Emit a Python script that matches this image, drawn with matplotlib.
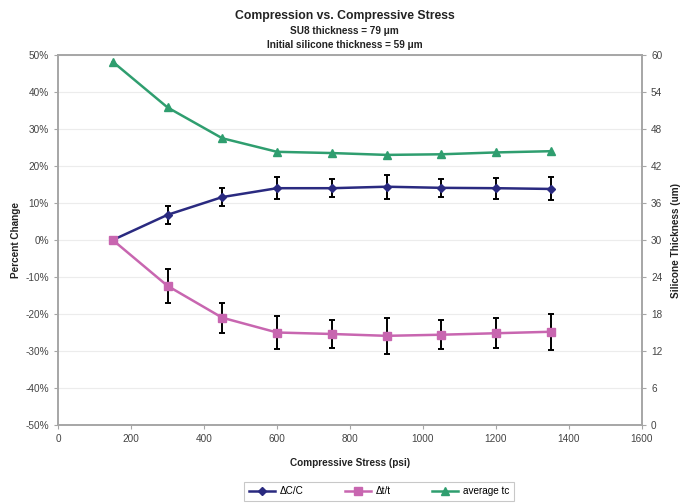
import matplotlib.pyplot as plt
from matplotlib.lines import Line2D
from matplotlib.ticker import FuncFormatter

plt.rcParams['font.family'] = ['Liberation Sans', 'DejaVu Sans']

# =========================
# DATA
# =========================
stress = [150, 300, 450, 600, 750, 900, 1050, 1200, 1350]

dc_c = [0.0, 6.8, 11.6, 14.0, 14.0, 14.4, 14.1, 14.0, 13.8]
dc_c_err = [0.0, 2.5, 2.4, 2.9, 2.5, 3.2, 2.5, 2.8, 3.1]

dt_t = [0.0, -12.4, -21.0, -25.0, -25.4, -25.9, -25.6, -25.2, -24.8]
dt_t_err = [0.0, 4.5, 4.0, 4.5, 3.8, 4.8, 3.9, 4.1, 4.9]

avg_tc = [58.9, 51.5, 46.5, 44.3, 44.1, 43.8, 43.9, 44.2, 44.4]

x_ticks = [0, 200, 400, 600, 800, 1000, 1200, 1400, 1600]
y_ticks = [-50, -40, -30, -20, -10, 0, 10, 20, 30, 40, 50]
y2_ticks = [0, 6, 12, 18, 24, 30, 36, 42, 48, 54, 60]

blue = '#2a2a80'
pink = '#c866b0'
green = '#2f9e6f'
axis_gray = '#a6a6a6'
text_col = '#222222'

# =========================
# FIGURE
# =========================
fig = plt.figure(figsize=(6.89, 5.04), dpi=100)
ax = fig.add_axes([58 / 689, 1 - 425 / 504, (642 - 58) / 689, (425 - 55) / 504])
ax2 = ax.twinx()

ax.set_xlim(0, 1600)
ax.set_ylim(-50, 50)
ax2.set_ylim(0, 60)
ax.set_xticks(x_ticks)
ax.set_yticks(y_ticks)
ax2.set_yticks(y2_ticks)
ax.yaxis.set_major_formatter(FuncFormatter(lambda v, p: f"{v:.0f}%"))

for a in (ax, ax2):
    for s in a.spines.values():
        s.set_color(axis_gray)
        s.set_linewidth(1.2)
    a.tick_params(colors=axis_gray, labelcolor='#444444', labelsize=7.2,
                  length=3, width=0.8)

ax.grid(axis='y', color='#ececec', linewidth=0.8)
ax.set_axisbelow(True)

# =========================
# SERIES
# =========================
ax.errorbar(stress, dc_c, yerr=dc_c_err, color=blue, marker='D', markersize=4,
            linewidth=1.8, ecolor='black', elinewidth=1.4, capsize=2,
            capthick=1.4, zorder=3)
ax.errorbar(stress, dt_t, yerr=dt_t_err, color=pink, marker='s', markersize=5.5,
            linewidth=1.8, ecolor='black', elinewidth=1.4, capsize=2,
            capthick=1.4, zorder=4)
ax2.plot(stress, avg_tc, color=green, marker='^', markersize=6, linewidth=1.8)

# =========================
# TEXT
# =========================
fig.text(0.5, 1 - 16 / 504, 'Compression vs. Compressive Stress', ha='center',
         va='center', fontsize=8.8, fontweight='bold', color=text_col)
fig.text(0.5, 1 - 31 / 504, 'SU8 thickness = 79 \u03bcm', ha='center',
         va='center', fontsize=7.2, fontweight='bold', color=text_col)
fig.text(0.5, 1 - 45 / 504, 'Initial silicone thickness = 59 \u03bcm', ha='center',
         va='center', fontsize=7.2, fontweight='bold', color=text_col)

ax.set_xlabel('Compressive Stress (psi)', fontsize=7.2, fontweight='bold',
              color=text_col, labelpad=10)
ax.set_ylabel('Percent Change', fontsize=7.2, fontweight='bold',
              color=text_col, labelpad=3)
ax2.set_ylabel('Silicone Thickness (um)', fontsize=7.2, fontweight='bold',
               color=text_col, labelpad=6)

handles = [
    Line2D([], [], color=blue, marker='D', markersize=4, linewidth=1.8),
    Line2D([], [], color=pink, marker='s', markersize=5.5, linewidth=1.8),
    Line2D([], [], color=green, marker='^', markersize=6, linewidth=1.8),
]
labels = ['\u0394C/C', '\u0394t/t', 'average tc']
leg = fig.legend(handles, labels, loc='center', ncol=3,
                 bbox_to_anchor=(379 / 689, 1 - 491 / 504), fontsize=7.2,
                 frameon=True, fancybox=False, edgecolor='#bbbbbb',
                 handlelength=2.6, columnspacing=4.1, borderpad=0.45,
                 handletextpad=0.5, borderaxespad=0.3)
leg.get_frame().set_linewidth(0.8)

fig.savefig('out.png', dpi=100)
